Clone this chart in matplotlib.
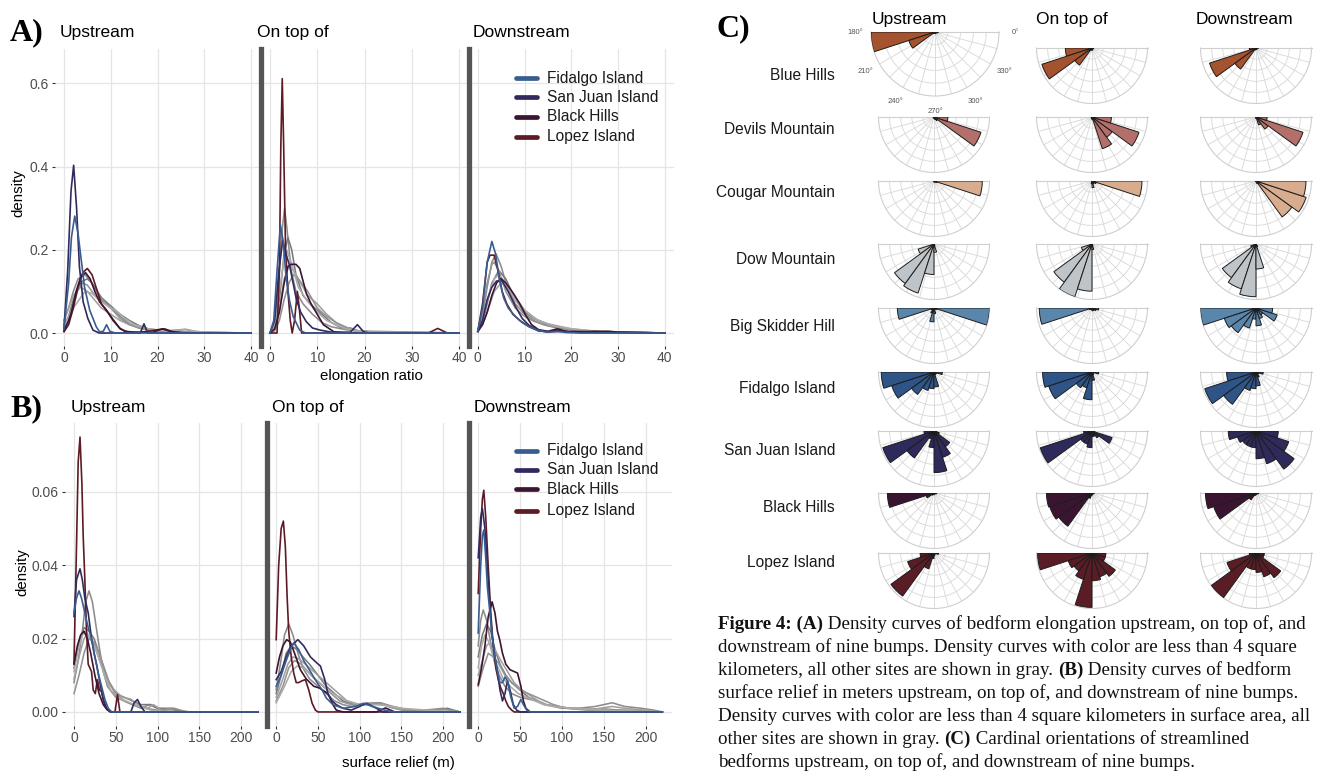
import matplotlib
matplotlib.use("Agg")
import matplotlib.pyplot as plt
import numpy as np
from matplotlib.lines import Line2D
from matplotlib.font_manager import FontProperties

W, H = 1321, 778
plt.rcParams['font.family'] = ['Liberation Sans', 'DejaVu Sans']

# ---------------------------------------------------------------- data
SITES = ["Blue Hills", "Devils Mountain", "Cougar Mountain", "Dow Mountain",
         "Big Skidder Hill", "Fidalgo Island", "San Juan Island", "Black Hills",
         "Lopez Island"]
LEGEND_SITES = ["Fidalgo Island", "San Juan Island", "Black Hills", "Lopez Island"]
GRAY_SITES = ["Blue Hills", "Devils Mountain", "Cougar Mountain", "Dow Mountain",
              "Big Skidder Hill"]
FACETS = ["Upstream", "On top of", "Downstream"]

# (A) elongation ratio density curves, (x, density) points
ELONG_UP = {
    "Fidalgo Island": [(0,0.01),(1,0.12),(1.6,0.23),(2.3,0.281),(3.0,0.24),(3.7,0.175),(4.4,0.11),(5.5,0.055),(6.9,0.015),(7.6,0.003),(8.4,0.004),(9.1,0.02),(9.8,0.004),(11,0),(40,0)],
    "San Juan Island": [(0,0.01),(0.8,0.15),(1.5,0.34),(2.07,0.403),(2.7,0.3),(3.3,0.16),(4.1,0.075),(5.1,0.035),(6.2,0.007),(7.5,0.0),(16.3,0.0),(17.1,0.022),(17.9,0.0),(40,0)],
    "Black Hills": [(0,0.005),(1,0.03),(1.6,0.05),(2.6,0.1),(3.6,0.135),(4.6,0.145),(5.6,0.13),(6.6,0.1),(7.6,0.075),(9.1,0.055),(10.5,0.03),(11.9,0.012),(13,0.004),(15,0.002),(19,0.002),(21,0.01),(23,0.003),(26,0),(40,0)],
    "Lopez Island": [(0,0.003),(1,0.02),(2,0.06),(3,0.11),(4,0.145),(5,0.155),(6,0.14),(7,0.105),(8,0.07),(9,0.055),(10,0.04),(11,0.025),(12,0.01),(13.5,0.003),(16,0.001),(20,0.008),(21.5,0.01),(23,0.004),(25,0),(40,0)],
    "Blue Hills": [(0,0.03),(1,0.06),(2,0.10),(3,0.13),(4.5,0.14),(6,0.12),(8,0.08),(10,0.06),(12,0.04),(14,0.022),(16,0.012),(18,0.008),(20,0.006),(22,0.005),(24,0.007),(26,0.009),(28,0.004),(30,0.001),(40,0)],
    "Devils Mountain": [(0,0.02),(1,0.04),(2,0.08),(3,0.11),(4,0.125),(5,0.13),(6,0.12),(8,0.085),(10,0.065),(12,0.045),(14,0.03),(16,0.018),(18,0.01),(20,0.007),(24,0.004),(28,0.002),(40,0)],
    "Cougar Mountain": [(0,0.03),(1,0.06),(2,0.09),(3.5,0.11),(5,0.10),(6.5,0.08),(8,0.06),(10,0.045),(12,0.03),(14,0.02),(17,0.01),(20,0.005),(25,0.002),(40,0)],
    "Dow Mountain": [(0,0.01),(1,0.03),(2,0.07),(3,0.105),(4,0.12),(5,0.115),(7,0.085),(9,0.07),(10,0.06),(12,0.035),(14,0.02),(16,0.012),(20,0.005),(26,0.002),(40,0)],
    "Big Skidder Hill": [(0,0.02),(2,0.06),(4.5,0.10),(6,0.095),(8,0.075),(10,0.06),(11,0.055),(13,0.035),(15,0.02),(18,0.01),(22,0.005),(26,0.008),(28,0.004),(32,0.001),(40,0)],
}
ELONG_ON = {
    "Fidalgo Island": [(0,0.0),(0.8,0.03),(1.5,0.15),(2.2,0.26),(2.8,0.22),(3.4,0.135),(4.1,0.08),(4.9,0.04),(6.3,0.007),(7.5,0.0),(40,0)],
    "San Juan Island": [(0,0.0),(1,0.03),(1.8,0.14),(2.7,0.223),(3.4,0.19),(4.2,0.16),(4.9,0.12),(5.6,0.08),(6.5,0.05),(7.7,0.027),(9,0.012),(10.6,0.007),(13,0.002),(17,0.002),(18.5,0.02),(19.8,0.003),(21,0),(40,0)],
    "Black Hills": [(0,0),(1,0.01),(2,0.05),(3,0.12),(3.8,0.16),(4.5,0.165),(5.5,0.165),(6.3,0.155),(7.0,0.125),(7.7,0.095),(8.7,0.07),(9.9,0.047),(11.3,0.02),(13.5,0.003),(16,0),(40,0)],
    "Lopez Island": [(0,0),(1.5,0.0),(2.0,0.15),(2.3,0.45),(2.6,0.611),(2.9,0.45),(3.3,0.2),(3.8,0.1),(4.3,0.03),(4.7,0.0),(5.2,0.03),(5.8,0.1),(6.2,0.06),(6.7,0.0),(33.5,0),(35.5,0.011),(37.5,0),(40,0)],
    "Blue Hills": [(0,0.0),(1,0.02),(2,0.15),(2.6,0.25),(3.1,0.30),(3.6,0.25),(4.5,0.15),(5.5,0.10),(7,0.07),(9,0.045),(11,0.025),(13,0.015),(16,0.008),(20,0.002),(40,0)],
    "Devils Mountain": [(0,0),(1,0.01),(2,0.08),(3,0.19),(3.8,0.23),(4.6,0.2),(5.5,0.14),(7,0.09),(9,0.065),(11,0.045),(13,0.025),(15,0.013),(17,0.012),(19,0.004),(22,0.002),(40,0)],
    "Cougar Mountain": [(0,0),(1,0.01),(2,0.06),(3,0.13),(4,0.16),(5,0.15),(6.5,0.12),(8,0.09),(10,0.07),(12,0.045),(14,0.025),(16,0.015),(18,0.006),(22,0.002),(40,0)],
    "Dow Mountain": [(0,0),(1,0.005),(2,0.03),(3,0.08),(4,0.12),(5,0.14),(6,0.13),(8,0.1),(10,0.06),(12,0.04),(14,0.025),(16,0.012),(18,0.005),(40,0)],
    "Big Skidder Hill": [(0,0),(1,0.02),(2,0.1),(3,0.18),(3.5,0.2),(4.5,0.17),(6,0.11),(8,0.075),(10,0.05),(12,0.03),(14,0.02),(16,0.01),(20,0.002),(40,0)],
}
ELONG_DOWN = {
    "Fidalgo Island": [(0,0.005),(1,0.06),(2,0.17),(3.0,0.22),(3.8,0.19),(4.6,0.13),(5.5,0.085),(6.5,0.06),(8,0.04),(9.5,0.025),(11,0.015),(13,0.006),(15,0.002),(17,0.004),(19,0.001),(22,0),(40,0)],
    "San Juan Island": [(0,0.004),(1,0.03),(2,0.08),(3,0.11),(4,0.125),(5.2,0.125),(6.5,0.1),(8,0.065),(9.5,0.035),(11,0.018),(13,0.006),(15,0.003),(18,0.004),(22,0.001),(40,0)],
    "Black Hills": [(0,0.004),(1,0.02),(2,0.05),(3,0.09),(4,0.12),(4.9,0.131),(6,0.12),(7,0.105),(7.9,0.09),(9,0.07),(10.4,0.04),(11.5,0.02),(13,0.008),(15,0.004),(17,0.01),(19,0.004),(24,0.003),(28,0.004),(30,0.002),(40,0)],
    "Lopez Island": [(0,0.004),(1,0.07),(2,0.17),(2.6,0.187),(3.5,0.187),(4.3,0.15),(5.2,0.1),(6.2,0.07),(7.5,0.045),(9,0.03),(11,0.015),(13,0.005),(15,0.003),(17,0.007),(20,0.002),(25,0.004),(28,0.002),(40,0)],
    "Blue Hills": [(0,0.005),(1,0.04),(2,0.11),(3,0.17),(3.9,0.19),(5,0.16),(6,0.12),(8,0.07),(10,0.045),(12,0.03),(14,0.02),(17,0.012),(20,0.008),(24,0.004),(30,0.002),(40,0)],
    "Devils Mountain": [(0,0.003),(1,0.025),(2,0.07),(3,0.12),(4.5,0.15),(6,0.13),(8,0.08),(10,0.05),(12,0.035),(15,0.02),(18,0.012),(22,0.006),(28,0.003),(40,0)],
    "Cougar Mountain": [(0,0.003),(1,0.02),(2,0.05),(3.5,0.1),(5,0.12),(6.5,0.11),(8,0.085),(10,0.055),(12,0.035),(15,0.022),(20,0.01),(25,0.004),(40,0)],
    "Dow Mountain": [(0,0.006),(1,0.05),(2,0.12),(3,0.165),(3.5,0.17),(4.5,0.15),(6,0.1),(8,0.06),(10,0.04),(12,0.028),(15,0.018),(20,0.008),(26,0.003),(40,0)],
    "Big Skidder Hill": [(0,0.004),(1,0.03),(2,0.08),(3.5,0.13),(4.5,0.14),(6,0.12),(8,0.08),(10,0.055),(13,0.03),(16,0.018),(20,0.01),(25,0.005),(32,0.002),(40,0)],
}

# (B) surface relief density curves
RELIEF_UP = {
    "Fidalgo Island": [(0,0.027),(3,0.031),(6,0.033),(9,0.031),(13,0.027),(17,0.023),(21,0.02),(25,0.015),(29,0.0106),(33,0.007),(37,0.0034),(41,0.001),(45,0),(220,0)],
    "San Juan Island": [(0,0.026),(3,0.036),(7.2,0.039),(10,0.036),(13,0.031),(17,0.027),(21,0.02),(24,0.016),(27,0.013),(31,0.008),(35,0.0034),(39,0.001),(43,0),(68,0),(72,0.0025),(76,0.0034),(80,0.0015),(85,0),(220,0)],
    "Black Hills": [(0,0.013),(4,0.018),(8,0.021),(12,0.022),(16,0.02),(20,0.016),(25,0.01),(30,0.005),(35,0.002),(40,0.0005),(45,0),(220,0)],
    "Lopez Island": [(0,0.0133),(3,0.045),(5,0.068),(7.2,0.0749),(9.5,0.062),(11,0.048),(13,0.036),(15,0.022),(17,0.013),(19,0.012),(21,0.011),(23,0.006),(25.5,0.005),(28,0.0088),(30.5,0.006),(33,0.0056),(35.5,0.003),(38.4,0.001),(45,0),(49,0.0),(52,0.0047),(55,0),(220,0)],
    "Blue Hills": [(0,0.008),(5,0.014),(10,0.022),(14,0.03),(18,0.033),(22,0.03),(26,0.024),(30,0.018),(35,0.011),(40,0.007),(50,0.004),(60,0.003),(70,0.002),(80,0.001),(90,0.002),(100,0.001),(120,0.0005),(140,0),(220,0)],
    "Devils Mountain": [(0,0.012),(6,0.019),(12,0.023),(18,0.022),(24,0.02),(30,0.016),(36,0.012),(42,0.008),(50,0.005),(60,0.004),(70,0.003),(80,0.002),(92,0.002),(100,0.001),(118,0.001),(130,0),(220,0)],
    "Cougar Mountain": [(0,0.009),(6,0.015),(12,0.02),(16,0.021),(22,0.019),(28,0.016),(34,0.012),(40,0.009),(48,0.006),(58,0.004),(68,0.0035),(76,0.002),(88,0.001),(95,0.002),(105,0.0005),(120,0),(220,0)],
    "Dow Mountain": [(0,0.005),(6,0.01),(12,0.016),(18,0.02),(24,0.019),(30,0.016),(36,0.012),(42,0.008),(50,0.005),(60,0.003),(70,0.002),(85,0.001),(100,0.0005),(120,0.001),(135,0),(220,0)],
    "Big Skidder Hill": [(0,0.011),(5,0.017),(10,0.021),(14,0.022),(20,0.02),(26,0.017),(32,0.013),(38,0.009),(44,0.006),(52,0.004),(62,0.003),(72,0.002),(85,0.001),(100,0),(220,0)],
}
RELIEF_ON = {
    "Fidalgo Island": [(0,0.007),(6,0.01),(12,0.014),(17,0.017),(21,0.0188),(27,0.017),(33,0.014),(41,0.011),(49,0.008),(55,0.006),(60,0.0038),(68,0.002),(80,0.001),(95,0.0015),(105,0.0024),(115,0.0015),(130,0.0005),(140,0),(220,0)],
    "San Juan Island": [(0,0.0088),(6,0.011),(12,0.015),(18,0.018),(26,0.0197),(33,0.018),(41,0.015),(48,0.0135),(53,0.0125),(58,0.009),(62,0.005),(67,0.003),(72,0.002),(80,0.001),(90,0.0005),(100,0.0015),(108,0.0024),(116,0.0015),(128,0),(220,0)],
    "Black Hills": [(0,0.0106),(4,0.015),(8,0.018),(12.6,0.0197),(17,0.019),(22,0.016),(29,0.0115),(36,0.009),(45,0.007),(52,0.0065),(62,0.005),(68,0.002),(72,0.0005),(80,0),(120,0),(131,0.0011),(142,0),(220,0)],
    "Lopez Island": [(0,0.0197),(3,0.04),(6,0.05),(8.6,0.052),(11,0.045),(13,0.032),(15,0.022),(18,0.015),(21,0.0106),(24,0.008),(27,0.008),(31,0.0085),(35,0.0088),(39,0.006),(43,0.0024),(47,0.0005),(50,0),(220,0)],
    "Blue Hills": [(0,0.006),(5,0.013),(10,0.021),(15,0.024),(20,0.021),(26,0.016),(32,0.012),(40,0.009),(50,0.007),(60,0.005),(70,0.003),(80,0.002),(90,0.0015),(100,0.002),(115,0.0025),(125,0.0025),(135,0.0015),(150,0.0005),(170,0.0003),(200,0.001),(210,0.0005),(220,0)],
    "Devils Mountain": [(0,0.005),(6,0.01),(12,0.016),(18,0.018),(25,0.017),(32,0.015),(40,0.013),(50,0.01),(60,0.007),(70,0.005),(80,0.003),(95,0.002),(110,0.002),(120,0.0025),(130,0.002),(145,0.001),(160,0.0005),(195,0.0005),(205,0.001),(220,0)],
    "Cougar Mountain": [(0,0.004),(8,0.009),(14,0.013),(20,0.015),(27,0.0145),(35,0.013),(45,0.011),(55,0.009),(65,0.007),(75,0.005),(85,0.003),(100,0.002),(115,0.0025),(128,0.002),(140,0.001),(160,0.0005),(220,0)],
    "Dow Mountain": [(0,0.003),(8,0.007),(15,0.012),(22,0.014),(30,0.013),(38,0.011),(46,0.009),(56,0.007),(66,0.005),(76,0.003),(90,0.002),(110,0.002),(125,0.0025),(140,0.0015),(160,0.0005),(190,0.0005),(200,0.0008),(220,0)],
    "Big Skidder Hill": [(0,0.0025),(10,0.007),(18,0.011),(25,0.0125),(33,0.012),(42,0.01),(52,0.008),(62,0.006),(72,0.0045),(85,0.003),(100,0.002),(115,0.002),(130,0.0018),(150,0.001),(180,0.0005),(220,0)],
}
RELIEF_DOWN = {
    "Fidalgo Island": [(0,0.0215),(3,0.04),(5,0.048),(6.7,0.0496),(9,0.042),(11,0.034),(14,0.027),(17,0.02),(20,0.015),(23,0.011),(26,0.008),(29,0.008),(32,0.0095),(35,0.0085),(39,0.004),(43,0.001),(47,0.0015),(51,0.0034),(54,0.002),(58,0.0005),(62,0),(220,0)],
    "San Juan Island": [(0,0.042),(3,0.053),(5,0.0554),(8,0.05),(12,0.036),(16,0.022),(20,0.015),(23,0.011),(26,0.006),(29,0.003),(32,0.005),(35,0.0085),(38,0.006),(42,0.002),(46,0.0005),(50,0.0),(220,0)],
    "Black Hills": [(0,0.0074),(4,0.012),(8,0.018),(12,0.026),(16.6,0.03),(20,0.027),(23,0.022),(25.7,0.0197),(29,0.016),(33,0.013),(38,0.0115),(43,0.011),(47,0.0106),(51,0.007),(54,0.003),(57,0.001),(62,0),(220,0)],
    "Lopez Island": [(0,0.0323),(3,0.05),(5,0.058),(6.7,0.0604),(9,0.053),(12,0.0396),(15,0.027),(18,0.018),(21,0.012),(24,0.0088),(27,0.0065),(30,0.005),(33,0.003),(36,0.0015),(40,0.0005),(43,0),(220,0)],
    "Blue Hills": [(0,0.018),(3,0.025),(6,0.0278),(10,0.025),(14,0.02),(19,0.014),(25,0.01),(32,0.007),(40,0.005),(50,0.004),(60,0.0035),(70,0.003),(80,0.002),(90,0.0015),(100,0.001),(120,0.001),(140,0.0015),(160,0.0025),(175,0.0015),(195,0.001),(210,0.0005),(220,0)],
    "Devils Mountain": [(0,0.015),(5,0.021),(10,0.024),(15,0.022),(20,0.017),(26,0.013),(33,0.01),(40,0.008),(50,0.006),(60,0.004),(70,0.003),(80,0.002),(95,0.0015),(110,0.001),(130,0.0008),(150,0.0008),(170,0.0005),(200,0.0003),(220,0)],
    "Cougar Mountain": [(0,0.01),(5,0.014),(10,0.018),(14,0.019),(20,0.017),(27,0.014),(35,0.011),(43,0.008),(52,0.006),(62,0.0045),(72,0.003),(82,0.002),(95,0.0015),(110,0.001),(140,0.0008),(160,0.0015),(175,0.001),(200,0.0005),(220,0)],
    "Dow Mountain": [(0,0.007),(6,0.012),(12,0.016),(18,0.015),(25,0.013),(32,0.01),(40,0.008),(50,0.006),(60,0.005),(70,0.004),(80,0.003),(90,0.002),(105,0.001),(130,0.0005),(160,0.0005),(220,0)],
    "Big Skidder Hill": [(0,0.012),(4,0.018),(8,0.021),(13,0.019),(18,0.015),(24,0.012),(30,0.009),(38,0.007),(48,0.005),(58,0.004),(68,0.003),(78,0.002),(90,0.0015),(110,0.001),(150,0.0005),(220,0)],
}

# (C) rose diagrams: relative bar length in 18-degree bins from 180 to 360 deg
ROSE_BIN_EDGES = [180, 198, 216, 234, 252, 270, 288, 306, 324, 342, 360]
ROSE_UP = {
    "Blue Hills":       [1.0, 0.43, 0.03, 0.02, 0.0, 0.02, 0.03, 0.0, 0.02, 0.05],
    "Devils Mountain":  [0.02, 0.0, 0.0, 0.0, 0.02, 0.03, 0.05, 0.08, 0.89, 0.25],
    "Cougar Mountain":  [0.0, 0.0, 0.0, 0.0, 0.0, 0.02, 0.02, 0.03, 0.05, 0.87],
    "Dow Mountain":     [0.03, 0.3, 0.88, 0.93, 0.55, 0.15, 0.03, 0.0, 0.0, 0.0],
    "Big Skidder Hill": [0.66, 0.05, 0.03, 0.1, 0.25, 0.1, 0.03, 0.03, 0.05, 1.0],
    "Fidalgo Island":   [0.95, 0.8, 0.5, 0.35, 0.3, 0.27, 0.05, 0.03, 0.05, 0.15],
    "San Juan Island":  [0.18, 0.97, 0.6, 0.15, 0.3, 0.75, 0.5, 0.35, 0.1, 0.05],
    "Black Hills":      [0.84, 0.15, 0.05, 0.03, 0.03, 0.03, 0.03, 0.02, 0.02, 0.05],
    "Lopez Island":     [0.25, 0.5, 0.96, 0.3, 0.1, 0.05, 0.03, 0.02, 0.03, 0.08],
}
ROSE_ON = {
    "Blue Hills":       [0.48, 0.95, 0.38, 0.05, 0.03, 0.04, 0.03, 0.02, 0.02, 0.03],
    "Devils Mountain":  [0.02, 0.0, 0.0, 0.0, 0.03, 0.05, 0.6, 0.45, 0.89, 0.35],
    "Cougar Mountain":  [0.0, 0.0, 0.0, 0.0, 0.05, 0.12, 0.05, 0.05, 0.08, 0.9],
    "Dow Mountain":     [0.03, 0.2, 0.85, 1.0, 0.85, 0.1, 0.03, 0.0, 0.0, 0.0],
    "Big Skidder Hill": [0.95, 0.05, 0.03, 0.03, 0.03, 0.05, 0.05, 0.05, 0.08, 0.12],
    "Fidalgo Island":   [0.89, 0.82, 0.35, 0.3, 0.5, 0.15, 0.05, 0.03, 0.03, 0.12],
    "San Juan Island":  [0.15, 0.98, 0.25, 0.25, 0.3, 0.1, 0.1, 0.15, 0.38, 0.05],
    "Black Hills":      [0.82, 0.8, 0.74, 0.1, 0.05, 0.03, 0.03, 0.02, 0.02, 0.04],
    "Lopez Island":     [0.98, 0.45, 0.4, 0.5, 0.98, 0.5, 0.45, 0.52, 0.25, 0.25],
}
ROSE_DOWN = {
    "Blue Hills":       [0.12, 0.88, 0.47, 0.04, 0.02, 0.02, 0.03, 0.02, 0.02, 0.04],
    "Devils Mountain":  [0.0, 0.0, 0.0, 0.0, 0.02, 0.03, 0.15, 0.27, 0.89, 0.2],
    "Cougar Mountain":  [0.0, 0.0, 0.0, 0.0, 0.0, 0.02, 0.05, 0.8, 0.95, 0.9],
    "Dow Mountain":     [0.02, 0.1, 0.75, 0.85, 0.95, 0.45, 0.05, 0.0, 0.0, 0.0],
    "Big Skidder Hill": [1.0, 0.6, 0.55, 0.38, 0.2, 0.32, 0.2, 0.15, 0.4, 0.3],
    "Fidalgo Island":   [0.53, 0.97, 0.72, 0.35, 0.3, 0.25, 0.1, 0.05, 0.05, 0.13],
    "San Juan Island":  [0.5, 0.35, 0.3, 0.3, 0.3, 0.5, 0.62, 0.85, 0.62, 0.4],
    "Black Hills":      [0.91, 0.8, 0.15, 0.05, 0.03, 0.03, 0.03, 0.02, 0.02, 0.05],
    "Lopez Island":     [0.12, 0.55, 1.0, 0.3, 0.3, 0.35, 0.45, 0.55, 0.15, 0.15],
}
ROSE_ANGLE_TICKS = [180, 195, 210, 225, 240, 255, 270, 285, 300, 315, 330, 345, 360]
ROSE_ANGLE_LABELS = ["180°", "", "210°", "", "240°", "", "270°", "", "300°", "", "330°", "", "0°"]

CAPTION = [
    [("Figure 4: (A)", "bold"), (" Density curves of bedform elongation upstream, on top of, and", "normal")],
    [("downstream of nine bumps. Density curves with color are less than 4 square", "normal")],
    [("kilometers, all other sites are shown in gray. ", "normal"), ("(B)", "bold"), (" Density curves of bedform", "normal")],
    [("surface relief in meters upstream, on top of, and downstream of nine bumps.", "normal")],
    [("Density curves with color are less than 4 square kilometers in surface area, all", "normal")],
    [("other sites are shown in gray. ", "normal"), ("(C)", "bold"), (" Cardinal orientations of streamlined", "normal")],
    [("bedforms upstream, on top of, and downstream of nine bumps.", "normal")],
]

# ---------------------------------------------------------------- styling
LINE_COLORS = {"Fidalgo Island": "#3a5d90", "San Juan Island": "#302b5e",
               "Black Hills": "#3d1431", "Lopez Island": "#5e1b25",
               "Blue Hills": "#8c8c8c", "Devils Mountain": "#7a7a7a",
               "Cougar Mountain": "#a0a0a0", "Dow Mountain": "#939393",
               "Big Skidder Hill": "#ababab"}
ROSE_COLORS = {"Blue Hills": "#a5532f", "Devils Mountain": "#b3706a",
               "Cougar Mountain": "#d8ac8e", "Dow Mountain": "#bfc4c9",
               "Big Skidder Hill": "#5b86ac", "Fidalgo Island": "#2f5588",
               "San Juan Island": "#2e2b5c", "Black Hills": "#3b1431",
               "Lopez Island": "#5a1c25"}
TICK_COL = "#4d4d4d"
GRID_COL = "#e5e5e5"

fig = plt.figure(figsize=(W / 100, H / 100), dpi=100)


def px_box(x0, x1, ytop, ybot):
    return [x0 / W, 1 - ybot / H, (x1 - x0) / W, (ybot - ytop) / H]


def density_facet(box, data, xlim, ylim, xticks, yticks, yfmt, first):
    ax = fig.add_axes(box)
    for site in GRAY_SITES + LEGEND_SITES[::-1]:
        xs = [p[0] for p in data[site]]
        ys = [p[1] for p in data[site]]
        ax.plot(xs, ys, color=LINE_COLORS[site], lw=1.15 if site in GRAY_SITES else 1.2,
                solid_joinstyle='round')
    ax.set_xlim(*xlim)
    ax.set_ylim(*ylim)
    ax.set_xticks(xticks)
    ax.set_yticks(yticks)
    ax.grid(True, color=GRID_COL, lw=0.9)
    ax.set_axisbelow(True)
    for s in ax.spines.values():
        s.set_visible(False)
    ax.tick_params(axis='x', length=2, width=0.8, color='#333333', pad=1.5,
                   labelsize=10, labelcolor=TICK_COL)
    if first:
        ax.set_yticklabels([yfmt.format(v) for v in yticks])
        ax.tick_params(axis='y', length=2.2, width=0.8, color='#333333', pad=2.2,
                       labelsize=10, labelcolor=TICK_COL)
    else:
        ax.tick_params(axis='y', length=0, labelleft=False)
        ax.spines['left'].set_visible(True)
        ax.spines['left'].set_color('#555555')
        ax.spines['left'].set_linewidth(3.8)
    return ax


def legend(ys):
    for site, y in zip(LEGEND_SITES, ys):
        fig.add_artist(Line2D([516 / W, 537 / W], [1 - y / H] * 2, color=LINE_COLORS[site],
                              lw=3.4, solid_capstyle='round', transform=fig.transFigure))
        fig.text(547 / W, 1 - y / H, site, fontsize=11.2, va='center', ha='left', color='#1a1a1a')


# ---- panel A
A_BOXES = [(54.6, 260.5), (260.5, 468.5), (468.5, 674)]
A_TOP, A_BOT = 49.3, 345.7
for (x0, x1), d, i in zip(A_BOXES, [ELONG_UP, ELONG_ON, ELONG_DOWN], range(3)):
    density_facet(px_box(x0, x1, A_TOP, A_BOT), d, (-2, 42), (-0.0305, 0.6816),
                  [0, 10, 20, 30, 40], [0.0, 0.2, 0.4, 0.6], "{:.1f}", i == 0)
for x, t in zip([60, 257, 473], FACETS):
    fig.text(x / W, 1 - 37 / H, t, fontsize=12.5, ha='left', va='baseline')
fig.text(371 / W, 1 - 376 / H, "elongation ratio", fontsize=10.8, ha='center', va='center')
fig.text(18.5 / W, 1 - 193 / H, "density", fontsize=10.8, rotation=90, ha='center', va='center')
legend([78, 97, 116.5, 137])
fig.text(10 / W, 1 - 40 / H, "A)", fontsize=23, fontweight='bold', family='Liberation Serif',
         ha='left', va='baseline')

# ---- panel B
B_BOXES = [(64.8, 267), (267, 469), (469, 671.5)]
B_TOP, B_BOT = 423.3, 725.7
for (x0, x1), d, i in zip(B_BOXES, [RELIEF_UP, RELIEF_ON, RELIEF_DOWN], range(3)):
    density_facet(px_box(x0, x1, B_TOP, B_BOT), d, (-11, 231), (-0.003745, 0.078645),
                  [0, 50, 100, 150, 200], [0.0, 0.02, 0.04, 0.06], "{:.2f}", i == 0)
for x, t in zip([71, 272, 474], FACETS):
    fig.text(x / W, 1 - 412 / H, t, fontsize=12.5, ha='left', va='baseline')
fig.text(398 / W, 1 - 763 / H, "surface relief (m)", fontsize=10.8, ha='center', va='center')
fig.text(22 / W, 1 - 572 / H, "density", fontsize=10.8, rotation=90, ha='center', va='center')
legend([451, 469.5, 489, 511])
fig.text(10 / W, 1 - 416 / H, "B)", fontsize=23, fontweight='bold', family='Liberation Serif',
         ha='left', va='baseline')

# ---- panel C
fig.text(716 / W, 1 - 36 / H, "C)", fontsize=23, fontweight='bold', family='Liberation Serif',
         ha='left', va='baseline')
for x, t in zip([872, 1036, 1196], FACETS):
    fig.text(x / W, 1 - 24 / H, t, fontsize=12.5, ha='left', va='baseline')

ROW_Y = [48, 117, 181, 244, 308, 372, 431, 493, 553]
COL_X = [934, 1092, 1256]
LABEL_Y = [75, 129, 193, 259, 326, 389, 450, 507, 563]
theta_w = np.deg2rad(np.diff(ROSE_BIN_EDGES))
theta_c = np.deg2rad(np.array(ROSE_BIN_EDGES[:-1]) + np.diff(ROSE_BIN_EDGES) / 2)

for i, site in enumerate(SITES):
    fig.text(835 / W, 1 - LABEL_Y[i] / H, site, fontsize=11.2, ha='right', va='center',
             color='#1a1a1a')
    for j, rose in enumerate([ROSE_UP, ROSE_ON, ROSE_DOWN]):
        cx, cy, r = COL_X[j], ROW_Y[i], 55.5
        if i == 0 and j == 0:
            cx, cy, r = 935, 32, 64
        # polar wedge is centred in a square box: half-disc spans cy .. cy + r
        ax = fig.add_axes(px_box(cx - r, cx + r, cy - r / 2, cy + 1.5 * r), projection='polar')
        ax.set_thetamin(180)
        ax.set_thetamax(360)
        ax.bar(theta_c, rose[site], width=theta_w, color=ROSE_COLORS[site],
               edgecolor='#1c1c1c', linewidth=0.7, align='center', zorder=3)
        ax.set_ylim(0, 1.0)
        ax.set_rgrids([0.2, 0.4, 0.6, 0.8], labels=[])
        if i == 0 and j == 0:
            ax.set_thetagrids(ROSE_ANGLE_TICKS, labels=ROSE_ANGLE_LABELS,
                              fontsize=5.5, color='#555555')
            ax.tick_params(axis='x', pad=1)
        else:
            ax.set_thetagrids(ROSE_ANGLE_TICKS, labels=[])
        ax.grid(True, color='#dadada', lw=0.65)
        for s in ax.spines.values():
            s.set_color('#cfcfcf')
            s.set_linewidth(0.8)
        ax.set_facecolor('none')

# ---- caption
renderer = fig.canvas.get_renderer()
CAP_SIZE = 13.7
CAP_X = 718
CAP_BASE = [629, 652, 675, 698, 721, 744, 767]
for segs, yb in zip(CAPTION, CAP_BASE):
    x = CAP_X
    for txt, wt in segs:
        fp = FontProperties(family='Liberation Serif', weight=wt, size=CAP_SIZE)
        fig.text(x / W, 1 - yb / H, txt, fontproperties=fp, ha='left', va='baseline',
                 color='#111111')
        w, h, d = renderer.get_text_width_height_descent(txt, fp, ismath=False)
        x += w

fig.savefig("out.png", dpi=100)
